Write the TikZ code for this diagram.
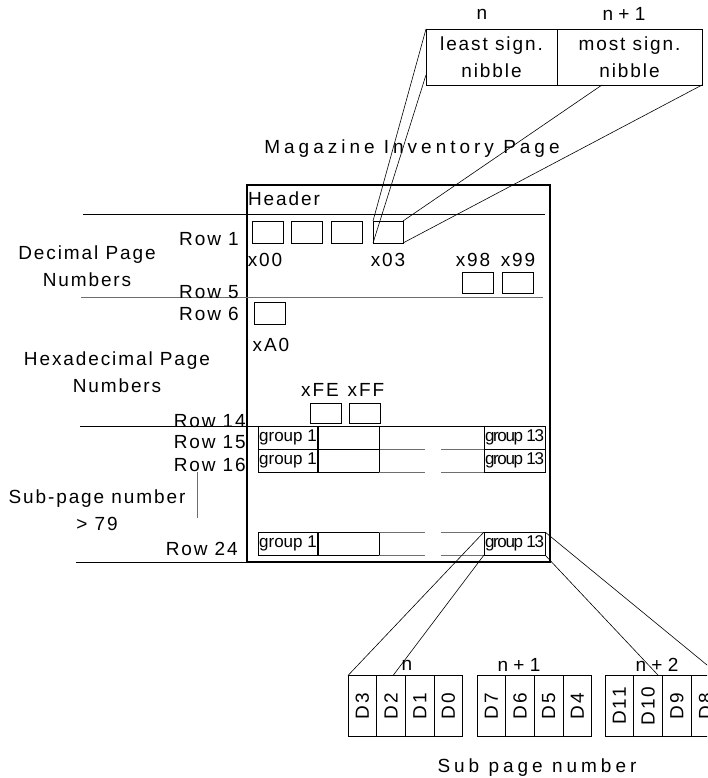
\documentclass[tikz,border=0pt]{standalone}
\usepackage{fontspec}
\setmainfont{Liberation Sans}
\newfontfamily\lblfont[LetterSpace=10]{Liberation Sans}
\newfontfamily\widefont[LetterSpace=21]{Liberation Sans}
\newfontfamily\tightfont[LetterSpace=-8]{Liberation Sans}
\usetikzlibrary{positioning,calc}
\definecolor{pggrey}{HTML}{6E6E6E}
\tikzset{
  lbl/.style={font=\lblfont\fontsize{19}{27}\selectfont,inner sep=0pt,align=center},
  idx/.style={font=\fontsize{19}{19}\selectfont,inner sep=0pt},
  title/.style={font=\widefont\fontsize{19}{20}\selectfont,inner sep=0pt},
  slot/.style={draw,line width=0.7pt,minimum width=31pt,minimum height=22pt,
               inner sep=0pt,outer sep=0pt},
  nib/.style={draw,line width=0.8pt,minimum height=56pt,inner sep=0pt,outer sep=0pt,
              align=center,font=\lblfont\fontsize{19}{27}\selectfont},
  grp/.style={draw,line width=0.7pt,minimum height=23pt,inner sep=0.5pt,outer sep=0pt,
              font=\fontsize{17}{17}\selectfont},
  dbit/.style={draw,line width=0.7pt,minimum width=28.7pt,minimum height=61pt,
               inner sep=0pt,outer sep=0pt,font=\lblfont\fontsize{19}{19}\selectfont},
  rule/.style={line width=0.7pt},
  link/.style={line width=0.6pt},
}

\begin{document}
\begin{tikzpicture}[x=1pt,y=-1pt,node distance=0pt]
  \useasboundingbox (0,0) rectangle (707,778);
  \clip (0,0) rectangle (707,778);

  % nibble box at the top
  \node[nib,minimum width=131pt] (lsn) at (491.5,57) {least sign.\\nibble};
  \node[nib,minimum width=145pt,right=of lsn] (msn) {most sign.\\nibble};
  \node[idx] (nlo) at (482,14) {n};
  \node[idx] (nhi) at (624,14) {n + 1};

  \node[title] (mip) at (412,149) {Magazine Inventory Page};

  % the page itself
  \node[draw,line width=2.6pt,minimum width=303pt,minimum height=377pt,
        inner sep=0pt,outer sep=0pt] (page) at (398.5,373.5) {};
  \node[lbl] (hdr) at (284,199) {Header};

  % row rules
  \draw[rule] (83,214) -- (545,214);
  \draw[rule,pggrey] (81,297) -- (543,297);
  \draw[rule] (80,426) -- (545,426);
  \draw[rule] (76,562) -- (page.south west);

  % row labels
  \node[lbl,anchor=east] (r1) at (239,239.5) {Row 1};
  \node[lbl,anchor=east] (r5) at (239,292.5) {Row 5};
  \node[lbl,anchor=east] (r6) at (239,313.5) {Row 6};
  \node[lbl,anchor=east] (r14) at (246,421.5) {Row 14};
  \node[lbl,anchor=east] (r15) at (246,442) {Row 15};
  \node[lbl,anchor=east] (r16) at (246,465) {Row 16};
  \node[lbl,anchor=east] (r24) at (238,549) {Row 24};

  \node[lbl] (dec) at (87,266) {Decimal Page\\Numbers};
  \node[lbl] (hex) at (117,372) {Hexadecimal Page\\Numbers};
  \node[lbl] (sub) at (97,510) {Sub-page number\\> 79};
  \draw[rule,pggrey] (197,472) -- (197,518);

  % page number slots
  \node[slot] (s00) at (267.5,232) {};
  \node[slot] (s01) at (307,232) {};
  \node[slot] (s02) at (346.5,232) {};
  \node[slot,minimum width=30pt] (s03) at (388,232) {};
  \node[slot,minimum height=21pt] (s98) at (477.5,282.5) {};
  \node[slot,minimum height=21pt] (s99) at (518,282.5) {};
  \node[slot] (sA0) at (270,313) {};
  \node[slot,minimum height=20pt] (sFE) at (326,413) {};
  \node[slot,minimum height=20pt] (sFF) at (364.5,413) {};

  \node[lbl] (l00) at (265,260) {x00};
  \node[lbl] (l03) at (388,260) {x03};
  \node[lbl] (l98) at (473,260) {x98};
  \node[lbl] (l99) at (518,260) {x99};
  \node[lbl] (lA0) at (271,345) {xA0};
  \node[lbl] (lFE) at (320,390) {xFE};
  \node[lbl] (lFF) at (366,390) {xFF};

  % x03 slot expanded into the nibble box
  \draw[link] (lsn.north west) -- (s03.north west);
  \draw[link] ($(lsn.south west)!0.18!(lsn.north west)$) -- (s03.south west);
  \draw[link] ($(msn.south west)!0.31!(msn.south east)$) -- (s03.north east);
  \draw[link] (msn.south east) -- (s03.south east);

  % sub-page rows 15, 16 and 24
  \foreach \rw/\ry in {15/437.5,16/460.5,24/543.5}{
    \node[grp,minimum width=60pt] (g\rw a) at (288,\ry) {group 1};
    \node[grp,minimum width=61pt,right=of g\rw a] (g\rw b) {};
    \node[grp,minimum width=61pt] (g\rw z) at (514.5,\ry) {\tightfont group 13};
    \draw[line width=1.6pt] (g\rw a.north east) -- (g\rw a.south east);
    \draw[rule,pggrey] (g\rw b.south east) -- ++(46,0);
    \draw[rule,pggrey] (g\rw z.south west) -- ++(-43,0);
  }
  \draw[rule,pggrey] (g24b.north east) -- ++(46,0);
  \draw[rule,pggrey] (g24z.north west) -- ++(-43,0);

  % sub page number bits
  \node[dbit] (d3) at (362.35,706) {\rotatebox{90}{D3}};
  \node[dbit,right=of d3] (d2) {\rotatebox{90}{D2}};
  \node[dbit,right=of d2] (d1) {\rotatebox{90}{D1}};
  \node[dbit,right=of d1] (d0) {\rotatebox{90}{D0}};
  \node[dbit] (d7) at (491.35,706) {\rotatebox{90}{D7}};
  \node[dbit,right=of d7] (d6) {\rotatebox{90}{D6}};
  \node[dbit,right=of d6] (d5) {\rotatebox{90}{D5}};
  \node[dbit,right=of d5] (d4) {\rotatebox{90}{D4}};
  \node[dbit] (d11) at (619.35,706) {\rotatebox{90}{D11}};
  \node[dbit,right=of d11] (d10) {\rotatebox{90}{D10}};
  \node[dbit,right=of d10] (d9) {\rotatebox{90}{D9}};
  \node[dbit,right=of d9] (d8) {\rotatebox{90}{D8}};

  \node[idx] (b0) at (407,665) {n};
  \node[idx] (b1) at (519,665) {n + 1};
  \node[idx] (b2) at (657,665) {n + 2};

  \draw[link] (g24z.north west) -- (d3.north west);
  \draw[link] (g24z.south west) -- ($(d2.north west)!0.57!(d2.north east)$);
  \draw[link] (g24z.south east) -- ($(d10.north west)!0.86!(d10.north east)$);
  \draw[link] (g24z.north east) -- (d8.north east);

  \node[title] (spn) at (537,768) {Sub page number};
\end{tikzpicture}
\end{document}
